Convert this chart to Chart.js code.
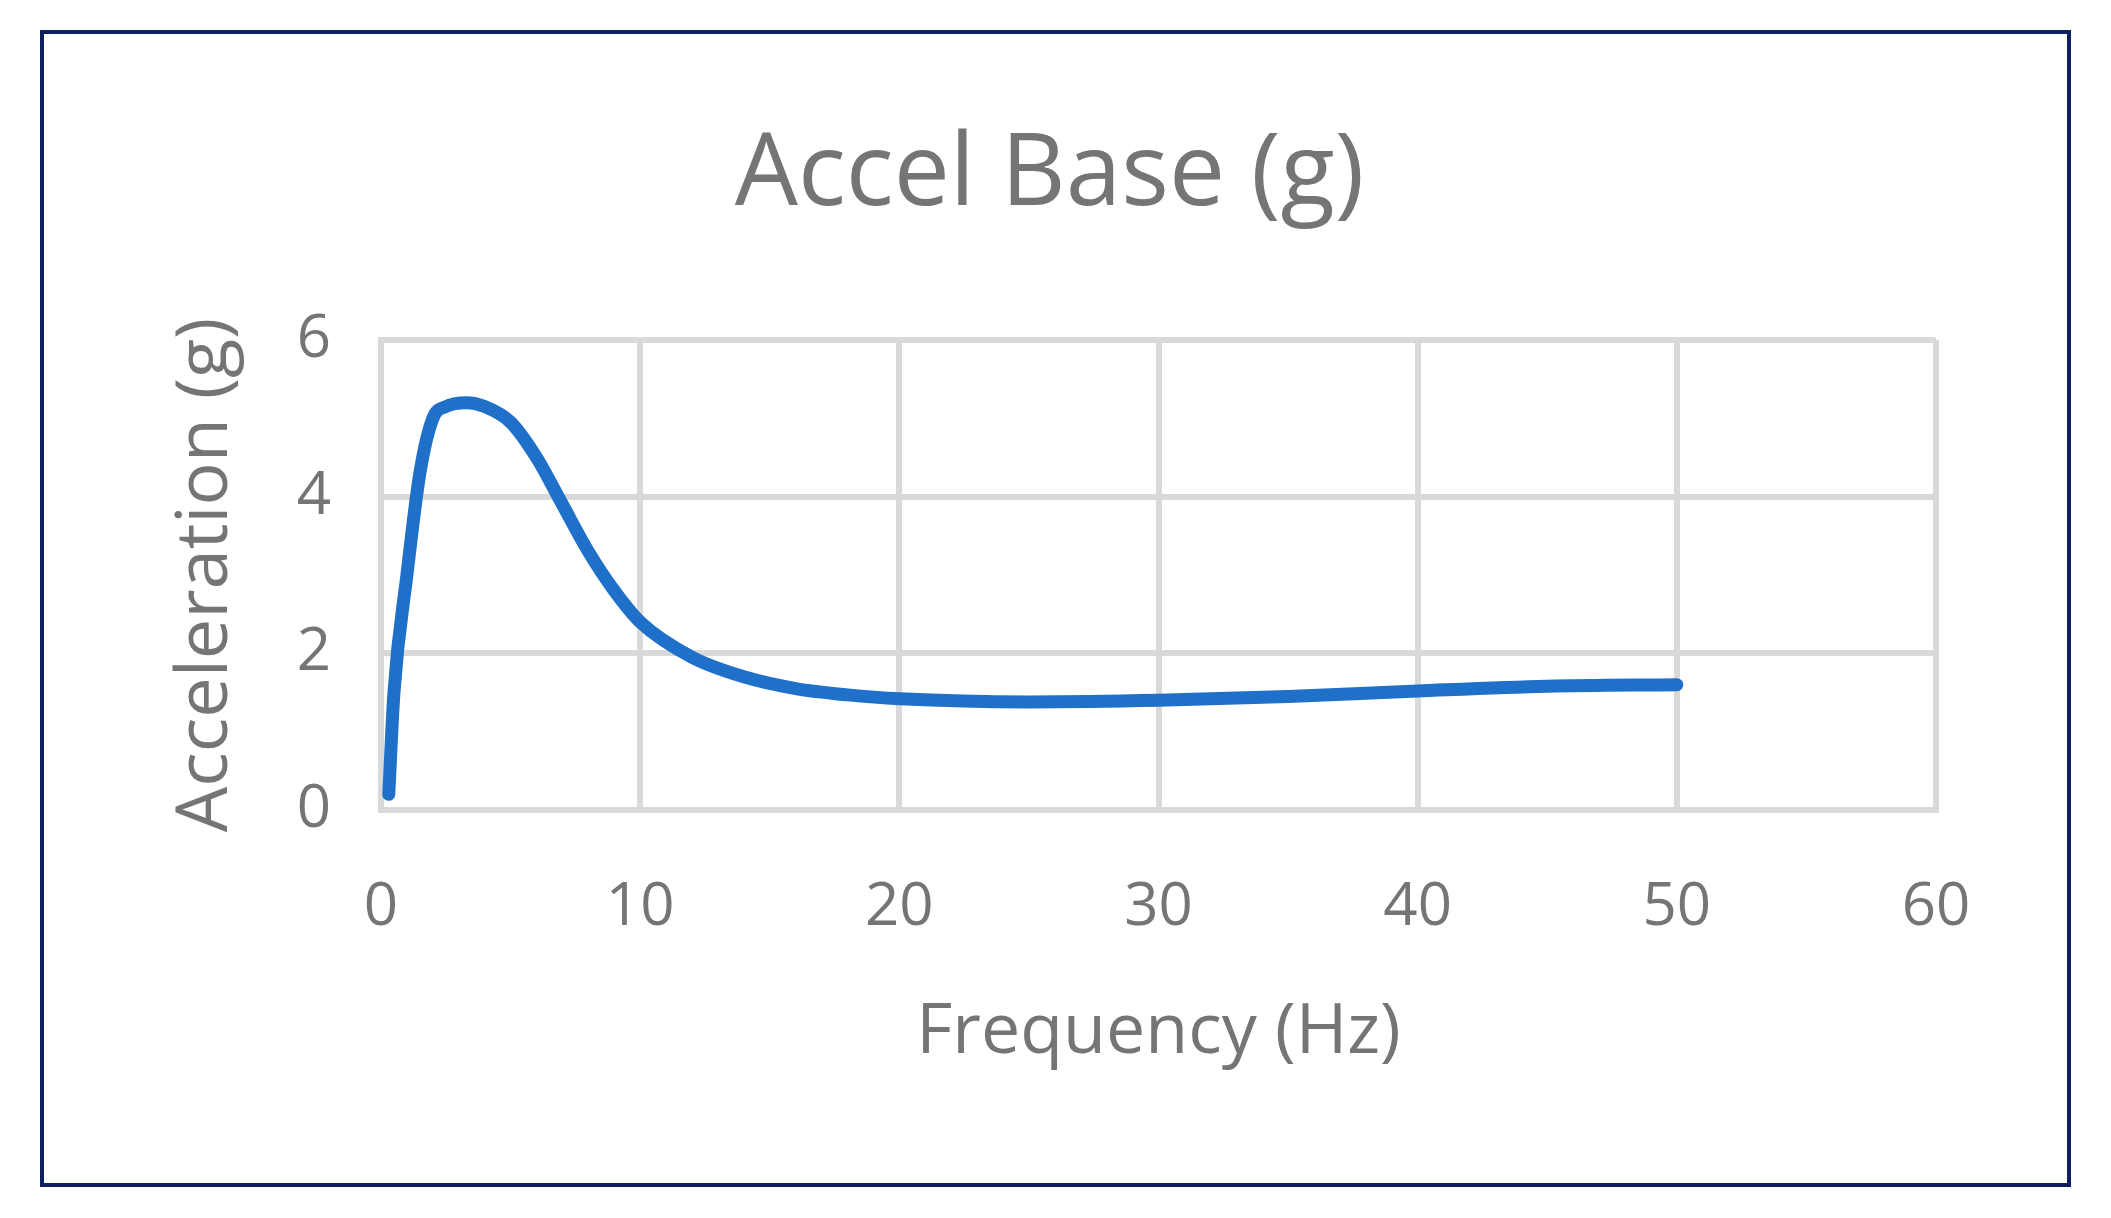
<!DOCTYPE html>
<html><head><meta charset="utf-8">
<script src="https://cdn.jsdelivr.net/npm/chart.js@4"></script>
<style>
html,body{margin:0;padding:0;background:#fff;}
#wrap{position:relative;width:2111px;height:1218px;}
#frame{position:absolute;left:40px;top:30px;width:2023px;height:1149px;border:4px solid #0d1f5c;}
canvas{position:absolute;left:0;top:0;}
</style></head>
<body><div id="wrap"><div id="frame"></div><canvas id="c" width="2111" height="1218"></canvas></div>
<script>
const freq = [0.3,0.5,1,1.5,2,2.5,3.3,4,5,6,7,8,9,10,12,14,16,18,20,25,30,35,40,45,50];
const accel = [0.2,1.5,3.0,4.3,5.0,5.15,5.2,5.15,4.95,4.5,3.9,3.3,2.8,2.4,1.95,1.7,1.55,1.47,1.42,1.38,1.4,1.45,1.52,1.58,1.6];
const gray = '#757575', grid = '#d9d9d9', font = "'Open Sans', sans-serif";
new Chart(document.getElementById('c'), {
  type: 'scatter',
  data: { datasets: [{ data: freq.map((x,i)=>({x, y: accel[i]})), showLine: true,
    borderColor: '#1f70c8', borderWidth: 13, pointRadius: 0, cubicInterpolationMode: 'monotone', borderCapStyle: 'round' }] },
  options: {
    responsive: false, animation: false, devicePixelRatio: 1,
    layout: { padding: { left: 163, right: 175, top: 0, bottom: 133 } },
    plugins: { legend: { display: false }, tooltip: { enabled: false },
      title: { display: true, text: 'Accel Base (g)', color: gray, font: { family: font, size: 100, weight: 'normal' }, padding: { top: 117, bottom: 103 } } },
    scales: {
      x: { type: 'linear', min: 0, max: 60, ticks: { stepSize: 10, color: gray, font: { family: font, size: 60 }, padding: 62 },
        grid: { color: grid, lineWidth: 6, drawTicks: false }, border: { color: grid, width: 6 },
        title: { display: true, text: 'Frequency (Hz)', color: gray, font: { family: font, size: 70 }, padding: { top: 10, bottom: 10 } },
        afterFit: s => { s.height = 275; } },
      y: { min: 0, max: 6, ticks: { stepSize: 2, color: gray, font: { family: font, size: 60 }, padding: 50 },
        grid: { color: grid, lineWidth: 6, drawTicks: false }, border: { color: grid, width: 6 },
        title: { display: true, text: 'Acceleration (g)', color: gray, font: { family: font, size: 72 }, padding: { top: 0, bottom: 0 } },
        afterFit: s => { s.width = 218; } }
    }
  }
});
</script></body></html>
